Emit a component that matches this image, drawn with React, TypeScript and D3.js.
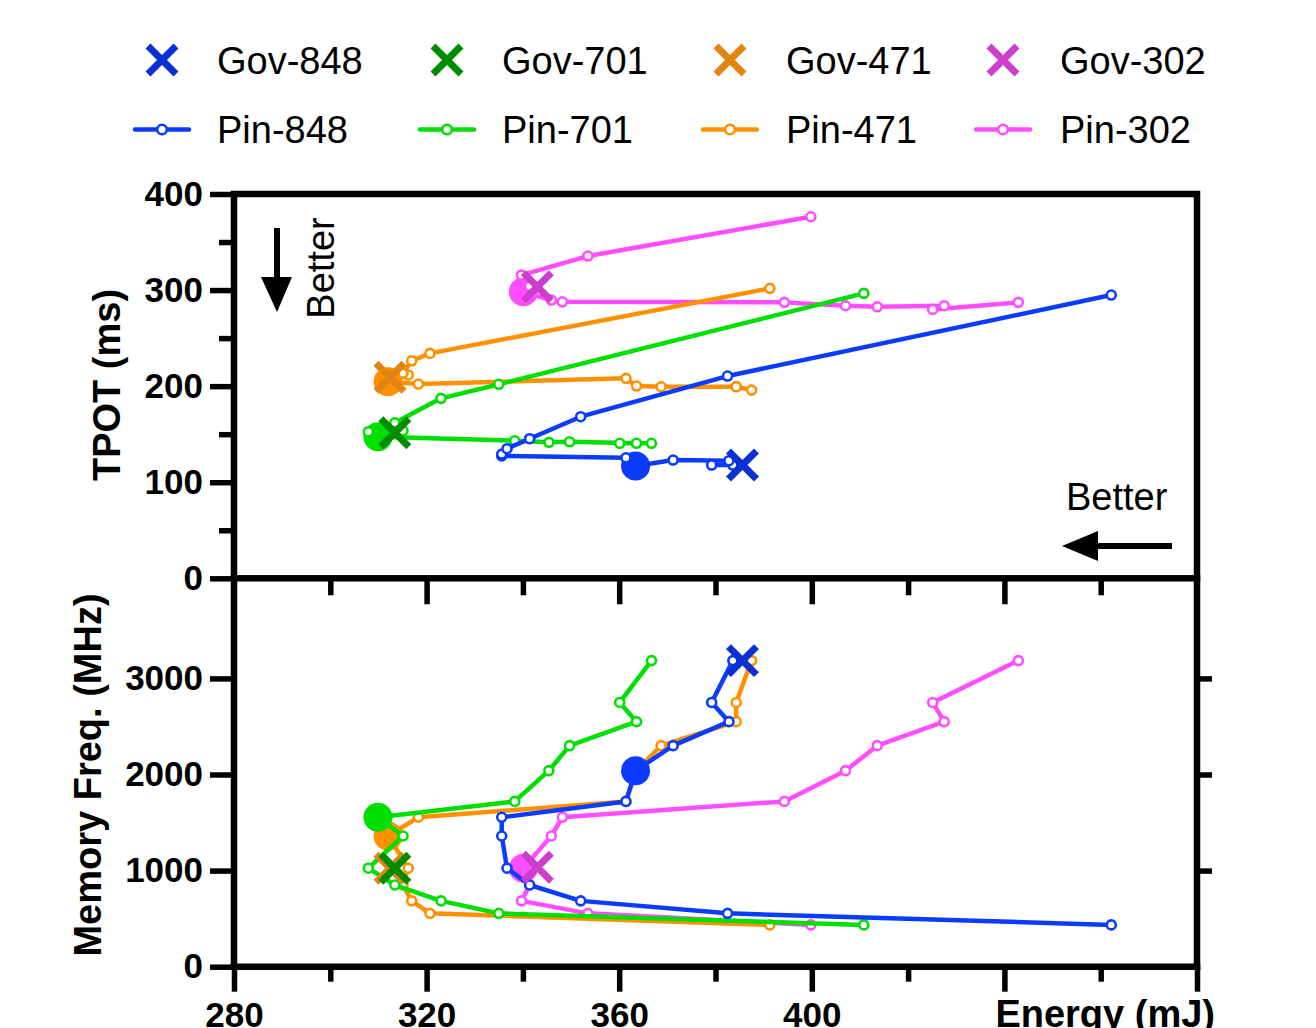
import React, { useEffect, useRef } from 'react';
import * as d3 from 'd3';

// memory frequency levels (MHz), shared by every Pin sweep
const memFreq = [3185, 2750, 2550, 2300, 2040, 1720, 1555, 1360, 1025, 850, 685, 555, 435];

const pin848Energy = [383.6, 379.2, 382.8, 371.2, 363.4, 361.4, 335.6, 335.6, 336.7, 341.4, 352.0, 382.5, 462.2];
const pin848Tpot = [117.9, 117.9, 122.4, 123.1, 116.9, 125.5, 127.3, 129.3, 134.9, 145.3, 168.2, 210.5, 294.8];

const pin701Energy = [366.7, 360.1, 363.6, 349.7, 345.4, 338.3, 309.9, 315.1, 307.9, 313.4, 323.0, 335.0, 410.8];
const pin701Tpot = [140.5, 140.5, 140.5, 142.1, 141.5, 143.2, 147.3, 153.6, 152.6, 161.9, 187.3, 201.9, 296.6];

const pin471Energy = [387.5, 384.3, 384.3, 368.7, 363.6, 361.4, 318.3, 312.0, 316.2, 315.1, 316.9, 320.7, 391.3];
const pin471Tpot = [195.9, 199.6, 199.4, 199.4, 200.1, 208.1, 202.2, 204.6, 211.6, 213.3, 226.4, 234.1, 301.8];

const pin302Energy = [442.9, 425.1, 427.5, 413.6, 407.0, 394.3, 348.2, 345.9, 340.1, 341.4, 339.7, 353.5, 399.8];
const pin302Tpot = [287.2, 279.9, 283.7, 282.6, 283.7, 287.2, 287.8, 289.6, 298.2, 304.0, 315.6, 335.4, 376.3];

// index of the highlighted (big dot) point of each Pin sweep
const pinBest = [4, 6, 7, 8];

const govLabels = ['Gov-848', 'Gov-701', 'Gov-471', 'Gov-302'];
const govEnergy = [385.6, 313.4, 312.4, 343.0];
const govTpot = [117.9, 151.5, 209.2, 303.4];
const govFreq = [3185, 1025, 1025, 1035];

const pinLabels = ['Pin-848', 'Pin-701', 'Pin-471', 'Pin-302'];

const FONT = '"Liberation Sans", Arial, Helvetica, sans-serif';

const App: React.FC = () => {
    const svgRef = useRef<SVGSVGElement | null>(null);

    useEffect(() => {
        const svg = d3.select(svgRef.current);
        svg.selectAll('*').remove();

        const pinColors = ['#0a3bff', '#00e000', '#ff9000', '#ff4dff'];
        const govColors = ['#0a2fd2', '#008c00', '#e0850f', '#cc3ecc'];

        const left = 234, right = 1197;
        const topTop = 194, topBottom = 578.3, botBottom = 966.7;

        const x = d3.scaleLinear().domain([280, 480]).range([left, right]);
        const yTop = d3.scaleLinear().domain([0, 400]).range([topBottom, topTop]);
        const yBot = d3.scaleLinear().domain([0, 4000]).range([botBottom, 582.3]);

        const styleAxis = (g: d3.Selection<SVGGElement, unknown, null, undefined>) => {
            g.attr('font-family', null).attr('font-size', null);
            g.select('.domain').remove();
            g.selectAll('.tick line').attr('stroke', '#000').attr('stroke-width', 5.5);
            g.selectAll('.tick text')
                .attr('fill', '#000')
                .attr('font-family', FONT)
                .attr('font-size', 35)
                .attr('font-weight', 'bold');
        };
        const plain = (d: d3.NumberValue) => String(d);

        // ----- axes -----
        // top panel y
        svg.append('g').attr('transform', `translate(${left},0)`)
            .call(d3.axisLeft(yTop).tickValues([0, 100, 200, 300, 400]).tickSize(24).tickPadding(7).tickFormat(plain))
            .call(styleAxis);
        svg.append('g').attr('transform', `translate(${left},0)`)
            .call(d3.axisLeft(yTop).tickValues([50, 150, 250, 350]).tickSize(15).tickFormat(() => ''))
            .call(styleAxis);

        // top panel x ticks (hang down into lower panel)
        svg.append('g').attr('transform', `translate(0,${topBottom})`)
            .call(d3.axisBottom(x).tickValues([320, 360, 400, 440]).tickSize(26).tickFormat(() => ''))
            .call(styleAxis);
        svg.append('g').attr('transform', `translate(0,${topBottom})`)
            .call(d3.axisBottom(x).tickValues([300, 340, 380, 420, 460]).tickSize(17).tickFormat(() => ''))
            .call(styleAxis);

        // bottom panel y
        svg.append('g').attr('transform', `translate(${left},0)`)
            .call(d3.axisLeft(yBot).tickValues([0, 1000, 2000, 3000]).tickSize(24).tickPadding(7).tickFormat(plain))
            .call(styleAxis);
        svg.append('g').attr('transform', `translate(${right},0)`)
            .call(d3.axisRight(yBot).tickValues([1000, 2000, 3000]).tickSize(15).tickFormat(() => ''))
            .call(styleAxis);

        // bottom panel x
        svg.append('g').attr('transform', `translate(0,${botBottom})`)
            .call(d3.axisBottom(x).tickValues([280, 320, 360, 400, 440, 480]).tickSize(25).tickPadding(10)
                .tickFormat(d => (+d <= 400 ? String(d) : '')))
            .call(styleAxis);
        svg.append('g').attr('transform', `translate(0,${botBottom})`)
            .call(d3.axisBottom(x).tickValues([300, 340, 380, 420, 460]).tickSize(15).tickFormat(() => ''))
            .call(styleAxis);

        // frames
        const frame = svg.append('g').attr('stroke', '#000').attr('stroke-width', 6.5)
            .attr('fill', 'none').attr('stroke-linecap', 'square');
        frame.append('rect').attr('x', left).attr('y', topTop)
            .attr('width', right - left).attr('height', topBottom - topTop);
        frame.append('line').attr('x1', left).attr('x2', left).attr('y1', topBottom).attr('y2', botBottom);
        frame.append('line').attr('x1', right).attr('x2', right).attr('y1', topBottom).attr('y2', botBottom);
        frame.append('line').attr('x1', left).attr('x2', right).attr('y1', botBottom).attr('y2', botBottom);

        // axis titles
        svg.append('text')
            .attr('transform', `translate(120,385) rotate(-90)`)
            .attr('text-anchor', 'middle')
            .attr('font-family', FONT).attr('font-size', 38).attr('font-weight', 'bold')
            .text('TPOT (ms)');
        svg.append('text')
            .attr('transform', `translate(101,775) rotate(-90)`)
            .attr('text-anchor', 'middle')
            .attr('font-family', FONT).attr('font-size', 38).attr('font-weight', 'bold')
            .text('Memory Freq. (MHz)');
        svg.append('text')
            .attr('x', 1215).attr('y', 1027)
            .attr('text-anchor', 'end')
            .attr('font-family', FONT).attr('font-size', 38).attr('font-weight', 'bold')
            .text('Energy (mJ)');

        // "Better" annotations
        svg.append('line').attr('x1', 277).attr('x2', 277).attr('y1', 228).attr('y2', 282)
            .attr('stroke', '#000').attr('stroke-width', 6);
        svg.append('path').attr('d', 'M261,277 L292,277 L277,312 Z').attr('fill', '#000');
        svg.append('text')
            .attr('transform', `translate(334,268) rotate(-90)`)
            .attr('text-anchor', 'middle')
            .attr('font-family', FONT).attr('font-size', 38)
            .text('Better');

        svg.append('line').attr('x1', 1172).attr('x2', 1092).attr('y1', 546).attr('y2', 546)
            .attr('stroke', '#000').attr('stroke-width', 6);
        svg.append('path').attr('d', 'M1062,546 L1098,531 L1098,561 Z').attr('fill', '#000');
        svg.append('text')
            .attr('x', 1066).attr('y', 510)
            .attr('font-family', FONT).attr('font-size', 38)
            .text('Better');

        // ----- data -----
        const energies = [pin848Energy, pin701Energy, pin471Energy, pin302Energy];
        const tpots = [pin848Tpot, pin701Tpot, pin471Tpot, pin302Tpot];
        const idx = d3.range(memFreq.length);
        const drawOrder = [3, 2, 1, 0];

        const panels = [
            { y: yTop, val: (s: number, i: number) => tpots[s][i], gy: (s: number) => govTpot[s] },
            { y: yBot, val: (_s: number, i: number) => memFreq[i], gy: (s: number) => govFreq[s] },
        ];

        panels.forEach(p => {
            drawOrder.forEach(s => {
                const g = svg.append('g');
                const line = d3.line<number>()
                    .x(i => x(energies[s][i]))
                    .y(i => p.y(p.val(s, i)));
                g.append('path')
                    .datum(idx)
                    .attr('fill', 'none')
                    .attr('stroke', pinColors[s])
                    .attr('stroke-width', 4.5)
                    .attr('stroke-linejoin', 'round')
                    .attr('d', line);
                g.append('circle')
                    .attr('cx', x(energies[s][pinBest[s]]))
                    .attr('cy', p.y(p.val(s, pinBest[s])))
                    .attr('r', 14.5)
                    .attr('fill', pinColors[s]);
                g.selectAll('circle.pt')
                    .data(idx.filter(i => i !== pinBest[s]))
                    .join('circle')
                    .attr('class', 'pt')
                    .attr('cx', i => x(energies[s][i]))
                    .attr('cy', i => p.y(p.val(s, i)))
                    .attr('r', 4.5)
                    .attr('fill', '#fff')
                    .attr('stroke', pinColors[s])
                    .attr('stroke-width', 2.6);
            });
            drawOrder.forEach(s => {
                const cx = x(govEnergy[s]);
                const cy = p.y(p.gy(s));
                const a = 14;
                svg.append('path')
                    .attr('d', `M${cx - a},${cy - a}L${cx + a},${cy + a}M${cx - a},${cy + a}L${cx + a},${cy - a}`)
                    .attr('stroke', govColors[s])
                    .attr('stroke-width', 7)
                    .attr('fill', 'none');
            });
        });

        // ----- legend -----
        const markX = [162, 447, 730, 1003];
        const textX = [217, 502, 786, 1060];
        const legend = svg.append('g').attr('font-family', FONT).attr('font-size', 38);
        govLabels.forEach((label, s) => {
            const cx = markX[s], cy = 60, a = 14;
            legend.append('path')
                .attr('d', `M${cx - a},${cy - a}L${cx + a},${cy + a}M${cx - a},${cy + a}L${cx + a},${cy - a}`)
                .attr('stroke', govColors[s]).attr('stroke-width', 7).attr('fill', 'none');
            legend.append('text').attr('x', textX[s]).attr('y', 74).text(label);
        });
        pinLabels.forEach((label, s) => {
            const cx = markX[s], cy = 129.5;
            legend.append('line')
                .attr('x1', cx - 27).attr('x2', cx + 27).attr('y1', cy).attr('y2', cy)
                .attr('stroke', pinColors[s]).attr('stroke-width', 4.5).attr('stroke-linecap', 'round');
            legend.append('circle')
                .attr('cx', cx).attr('cy', cy).attr('r', 4.8)
                .attr('fill', '#fff').attr('stroke', pinColors[s]).attr('stroke-width', 2.6);
            legend.append('text').attr('x', textX[s]).attr('y', 143).text(label);
        });
    }, []);

    return (
        <svg
            ref={svgRef}
            width={1316}
            height={1028}
            style={{ position: 'absolute', left: 0, top: 0, background: '#fff' }}
        />
    );
};

export default App;
